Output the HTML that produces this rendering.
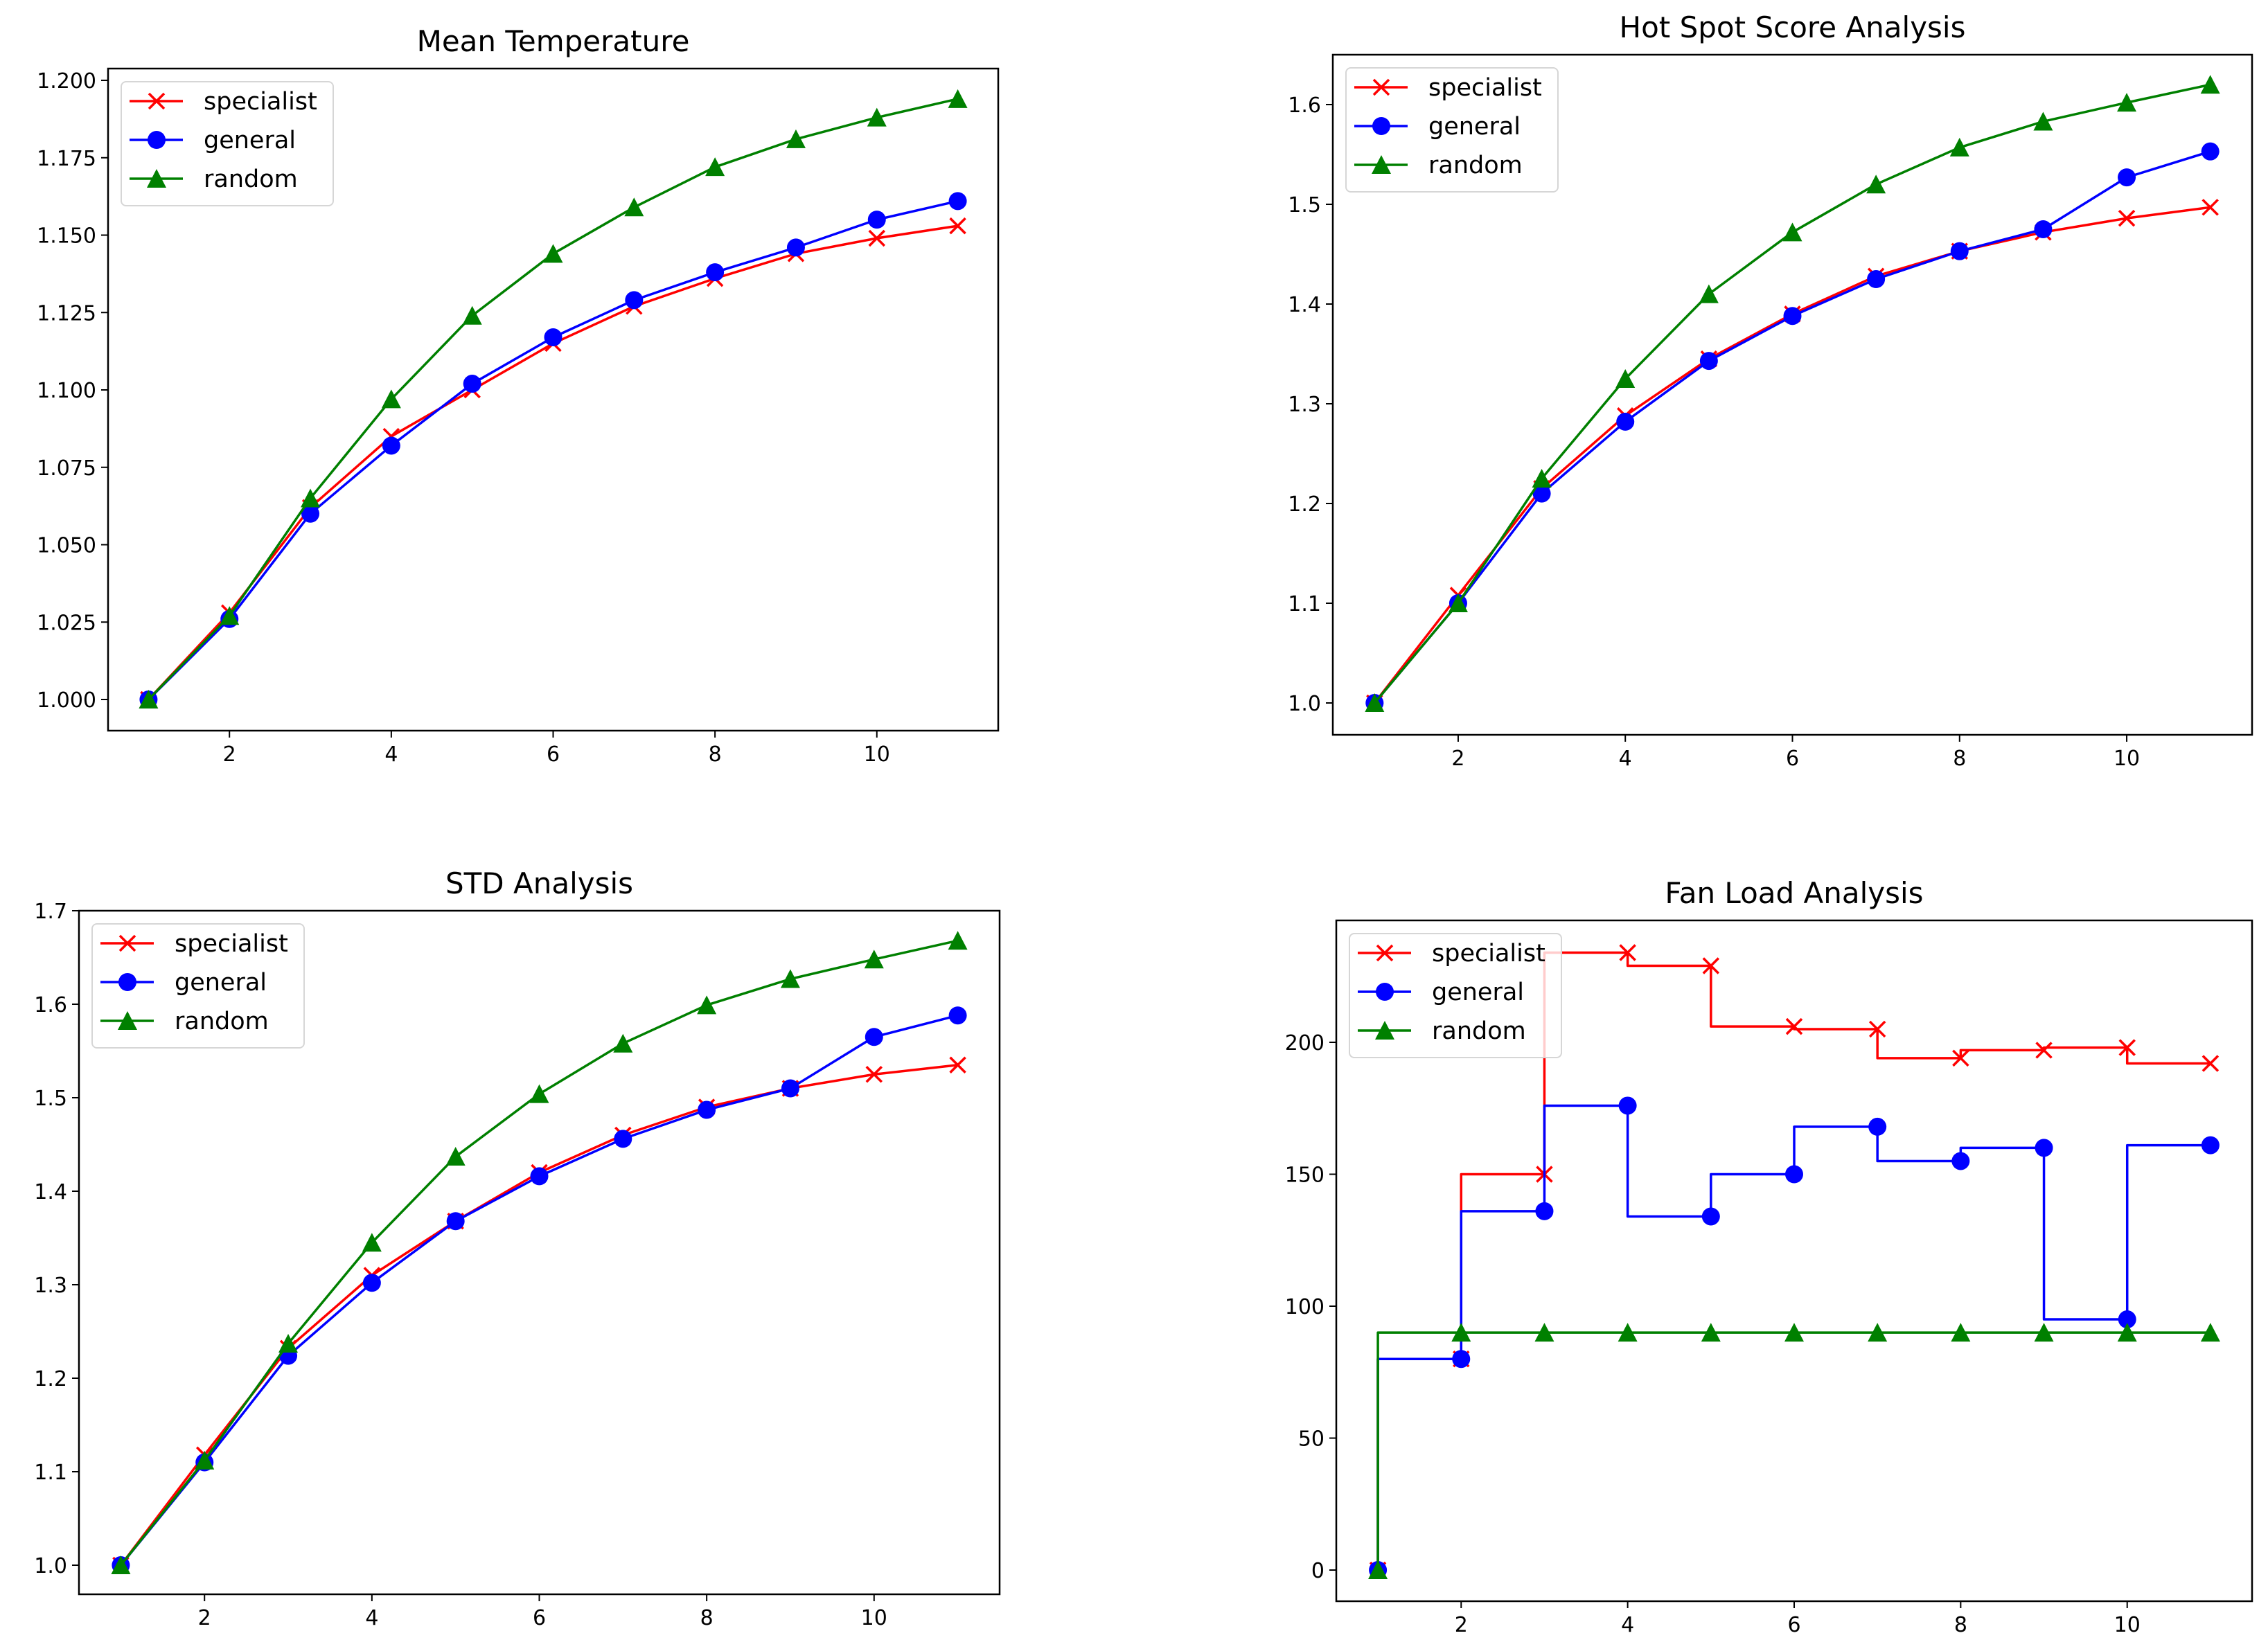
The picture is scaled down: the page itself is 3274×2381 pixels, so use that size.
<!DOCTYPE html>
<html><head><meta charset="utf-8">
<style>
html,body{margin:0;padding:0;background:#fff;}
svg{display:block;font-family:"DejaVu Sans","Liberation Sans",sans-serif;}
</style></head>
<body>
<svg id="fig" width="3274" height="2381" viewBox="0 0 3274 2381" xmlns="http://www.w3.org/2000/svg"></svg>
<script>
const xValues = [1,2,3,4,5,6,7,8,9,10,11];
const xTicks = [2,4,6,8,10];
const seriesNames = ["specialist","general","random"];
const meanSpecialist = [1.000,1.028,1.062,1.085,1.100,1.115,1.127,1.136,1.144,1.149,1.153];
const meanGeneral    = [1.000,1.026,1.060,1.082,1.102,1.117,1.129,1.138,1.146,1.155,1.161];
const meanRandom     = [1.000,1.027,1.065,1.097,1.124,1.144,1.159,1.172,1.181,1.188,1.194];
const meanTicks = [1.000,1.025,1.050,1.075,1.100,1.125,1.150,1.175,1.200];
const hotSpecialist = [1.0,1.108,1.215,1.288,1.345,1.390,1.428,1.453,1.472,1.486,1.497];
const hotGeneral    = [1.0,1.100,1.210,1.282,1.343,1.388,1.425,1.453,1.475,1.527,1.553];
const hotRandom     = [1.0,1.100,1.225,1.325,1.410,1.472,1.520,1.557,1.583,1.602,1.620];
const hotTicks = [1.0,1.1,1.2,1.3,1.4,1.5,1.6];
const stdSpecialist = [1.0,1.118,1.232,1.310,1.368,1.420,1.460,1.490,1.510,1.525,1.535];
const stdGeneral    = [1.0,1.110,1.224,1.302,1.368,1.416,1.456,1.487,1.510,1.565,1.588];
const stdRandom     = [1.0,1.112,1.237,1.345,1.437,1.504,1.558,1.599,1.627,1.648,1.668];
const stdTicks = [1.0,1.1,1.2,1.3,1.4,1.5,1.6,1.7];
const fanSpecialist = [0,80,150,234,229,206,205,194,197,198,192];
const fanGeneral    = [0,80,136,176,134,150,168,155,160,95,161];
const fanRandom     = [0,90,90,90,90,90,90,90,90,90,90];
const fanTicks = [0,50,100,150,200];

const NS="http://www.w3.org/2000/svg";
const fig=document.getElementById('fig');
const COLORS=["#ff0000","#0000ff","#008000"];
function mk(tag,attrs,parent){const e=document.createElementNS(NS,tag);for(const k in attrs)e.setAttribute(k,attrs[k]);(parent||fig).appendChild(e);return e;}

function marker(g,kind,cx,cy,color){
  let m;
  if(kind===0){
    m=mk('path',{d:`M${cx-11},${cy-11}L${cx+11},${cy+11}M${cx-11},${cy+11}L${cx+11},${cy-11}`,stroke:color,'stroke-width':3.5,fill:'none'},g);
  }else if(kind===1){
    m=mk('circle',{cx:cx,cy:cy,r:13,fill:color},g);
  }else{
    m=mk('path',{d:`M${cx},${cy-14}L${cx+14},${cy+13}L${cx-14},${cy+13}Z`,fill:color},g);
  }
  return m;
}

function chart(cfg){
  const g=mk('g',{});
  
  
  const L=cfg.left,R=cfg.right,T=cfg.top,B=cfg.bottom;
  const xs=v=>L+(v-0.5)/11*(R-L);
  const ys=v=>cfg.y0px-(v-cfg.y0)*cfg.ppu;
  const defs=mk('clipPath',{id:cfg.name+'-clip'},g);
  mk('rect',{x:L,y:T,width:R-L,height:B-T},defs);
  const plot=mk('g',{'clip-path':`url(#${cfg.name}-clip)`},g);
  cfg.series.forEach((vals,si)=>{
    let d='';
    vals.forEach((v,i)=>{
      const x=xs(xValues[i]),y=ys(v);
      if(i===0)d+=`M${x},${y}`;
      else if(cfg.step){d+=`L${xs(xValues[i-1])},${y}L${x},${y}`;}
      else d+=`L${x},${y}`;
    });
    const p=mk('path',{d:d,stroke:COLORS[si],'stroke-width':3.5,fill:'none','stroke-linejoin':'round'},plot);
    
    
    vals.forEach((v,i)=>{
      const m=marker(plot,si,xs(xValues[i]),ys(v),COLORS[si]);
      
      
    });
  });
  const fr=mk('rect',{x:L,y:T,width:R-L,height:B-T,fill:'none',stroke:'#000','stroke-width':2.5},g);
  
  
  xTicks.forEach(t=>{
    const x=xs(t);
    mk('line',{x1:x,y1:B,x2:x,y2:B+10,stroke:'#000','stroke-width':2},g);
    const tx=mk('text',{x:x,y:B+44,'font-size':30,'text-anchor':'middle',fill:'#000'},g);
    tx.textContent=t;
    
    
  });
  cfg.ticks.forEach(t=>{
    const y=ys(t);
    mk('line',{x1:L-10,y1:y,x2:L,y2:y,stroke:'#000','stroke-width':2},g);
    const tx=mk('text',{x:L-17,y:y+11,'font-size':30,'text-anchor':'end',fill:'#000'},g);
    tx.textContent=t.toFixed(cfg.dec);
    
    
  });
  const ti=mk('text',{x:(L+R)/2,y:T-25,'font-size':42,'text-anchor':'middle',fill:'#000'},g);
  ti.textContent=cfg.title;
  
  
  const lg=mk('g',{},g);
  
  
  const bx=L+19,by=T+19;
  mk('rect',{x:bx,y:by,width:306,height:179,rx:7,fill:'#fff','fill-opacity':0.8,stroke:'#d6d6d6','stroke-width':2},lg);
  seriesNames.forEach((n,i)=>{
    const y=by+28+i*56;
    mk('line',{x1:bx+12,y1:y,x2:bx+89,y2:y,stroke:COLORS[i],'stroke-width':3.5},lg);
    marker(lg,i,bx+51,y,COLORS[i]);
    const tx=mk('text',{x:bx+119,y:y+12,'font-size':35,fill:'#000'},lg);
    tx.textContent=n;
    
    
  });
}

chart({name:'mean-temperature-chart',title:'Mean Temperature',left:156,right:1441,top:99,bottom:1055,
  y0:1.0,y0px:1010,ppu:111.75/0.025,ticks:meanTicks,dec:3,
  series:[meanSpecialist,meanGeneral,meanRandom]});
chart({name:'hot-spot-chart',title:'Hot Spot Score Analysis',left:1924,right:3251,top:79,bottom:1061,
  y0:1.0,y0px:1015,ppu:1440,ticks:hotTicks,dec:1,
  series:[hotSpecialist,hotGeneral,hotRandom]});
chart({name:'std-chart',title:'STD Analysis',left:114,right:1443,top:1315,bottom:2302,
  y0:1.0,y0px:2260,ppu:1350,ticks:stdTicks,dec:1,
  series:[stdSpecialist,stdGeneral,stdRandom]});
chart({name:'fan-load-chart',title:'Fan Load Analysis',left:1929,right:3251,top:1329,bottom:2312,
  y0:0,y0px:2267,ppu:190.5/50,ticks:fanTicks,dec:0,step:true,
  series:[fanSpecialist,fanGeneral,fanRandom]});
</script>
</body></html>
